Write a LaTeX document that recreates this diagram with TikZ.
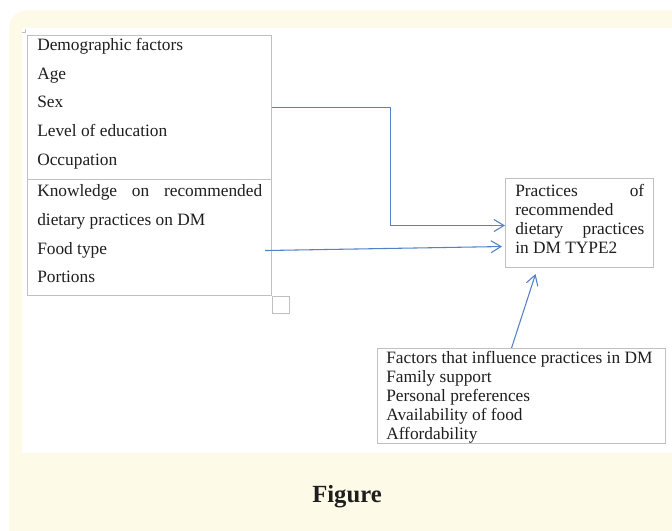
\documentclass[tikz,border=0pt]{standalone}
\usepackage{fontspec}
\setmainfont{Liberation Serif}
\usetikzlibrary{arrows.meta,calc}
\definecolor{bgyellow}{RGB}{254,250,232}
\definecolor{boxgray}{RGB}{192,192,192}
\definecolor{arrowblue}{RGB}{84,130,200}
\definecolor{txt}{RGB}{30,30,30}
\begin{document}
\begin{tikzpicture}[x=0.75pt,y=-0.75pt,
  frame/.style={draw=boxgray, line width=0.8pt, inner sep=0pt, anchor=north west},
  bigtext/.style={font=\fontsize{13}{21.5}\selectfont, text=txt, align=left, inner sep=0pt, anchor=west},
  smalltext/.style={font=\fontsize{13}{14.25}\selectfont, text=txt, align=left, inner sep=0pt, anchor=west},
  link/.style={draw=arrowblue, line width=0.8pt, -{Straight Barb[length=7.5pt,width=9pt]}}]
\useasboundingbox (0,0) rectangle (672,531);
\begin{scope}
\clip (0,0) rectangle (672,531);
\fill[bgyellow, rounded corners=14pt] (9,10) rectangle (690,550);
\fill[white] (22,28) rectangle (680,453);
\end{scope}
% tiny corner mark
\draw[boxgray, line width=0.6pt] (25,29) -- (25,32) -- (22,32);
% boxes
\node[frame, minimum width=183pt, minimum height=108pt] (demo) at (27,35) {};
\node[frame, minimum width=183pt, minimum height=87pt] (know) at (27,179) {};
\node[frame, minimum width=111pt, minimum height=66.75pt] (prac) at (505,178) {};
\node[frame, minimum width=216pt, minimum height=71.25pt] (fac) at (377,348) {};
\node[frame, minimum width=12.75pt, minimum height=12.75pt] (sq) at (272,296) {};
% texts
\node[bigtext] (demotext) at (37,103.5) {Demographic factors\\Age\\Sex\\Level of education\\Occupation};
\node[bigtext] (knowtext) at (37,234) {\makebox[168.75pt]{Knowledge\hfill on\hfill recommended}\\dietary practices on DM\\Food type\\Portions};
\node[smalltext] (practext) at (515,218.5) {\makebox[96.75pt]{Practices\hfill of}\\recommended\\\makebox[96.75pt]{dietary\hfill practices}\\in DM TYPE2};
\node[smalltext] (factext) at (386,397) {Factors that influence practices in DM\\Family support\\Personal preferences\\Availability of food\\Affordability};
\node[font=\fontsize{18.5}{20}\selectfont\bfseries, text=txt, inner sep=0pt] (fig) at (347,497) {Figure};
% connectors
\draw[link] (demo.east) -- ++(118,0) |- ($(prac.west)+(0,2.5)$);
\draw[link] ($(know.east)+(-7,13)$) -- ($(prac.west)+(-3,23.5)$);
\draw[link] ($(fac.north)+(-10,0)$) -- ($(prac.south)+(-44,6)$);
\end{tikzpicture}
\end{document}
